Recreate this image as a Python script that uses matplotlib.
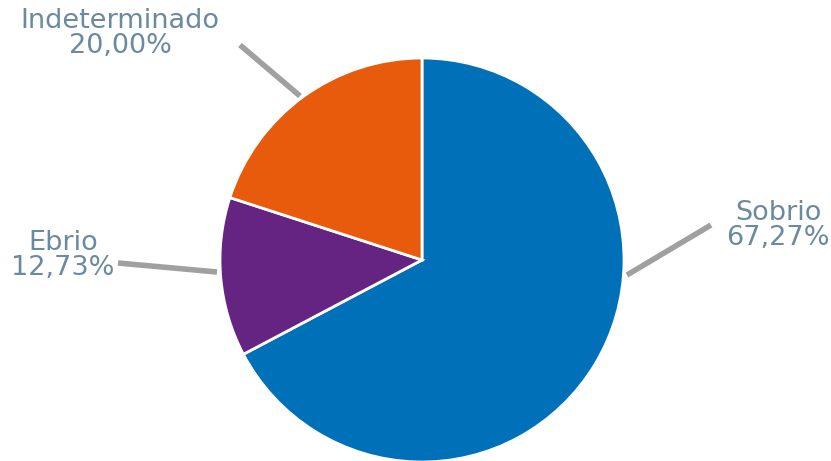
import matplotlib.pyplot as plt

# datos
labels = ['Sobrio', 'Ebrio', 'Indeterminado']
values = [67.27, 12.73, 20.00]
colors = ['#0070b8', '#662482', '#e85b0c']

text_color = '#6a8aa0'
line_color = '#a0a0a0'

W, H = 831, 461
fig = plt.figure(figsize=(W / 100, H / 100), dpi=100)
ax = fig.add_axes([0, 0, 1, 1])

# pie in pixel coords (y up)
cx, cy, r = 422, H - 260, 202
ax.pie(values, colors=colors, startangle=90, counterclock=False,
       center=(cx, cy), radius=r,
       wedgeprops=dict(edgecolor='white', linewidth=2))
ax.set_xlim(0, W)
ax.set_ylim(0, H)
ax.set_aspect('equal')
ax.axis('off')

# leader lines and labels
leaders = {
    'Sobrio': ((627, 275), (711, 225), (778, 226)),
    'Ebrio': ((217, 272), (118, 263), (63, 256)),
    'Indeterminado': ((300, 96), (240, 45), (120, 34)),
}
for lab, val in zip(labels, values):
    (x1, y1), (x2, y2), (tx, ty) = leaders[lab]
    ax.plot([x1, x2], [H - y1, H - y2], color=line_color, lw=4,
            solid_capstyle='butt')
    txt = f'{lab}\n{val:.2f}%'.replace('.', ',')
    ax.text(tx, H - ty, txt, ha='center', va='center', fontsize=19.5,
            color=text_color, linespacing=0.95, family='DejaVu Sans')

fig.savefig('out.png', dpi=100, facecolor='white')
